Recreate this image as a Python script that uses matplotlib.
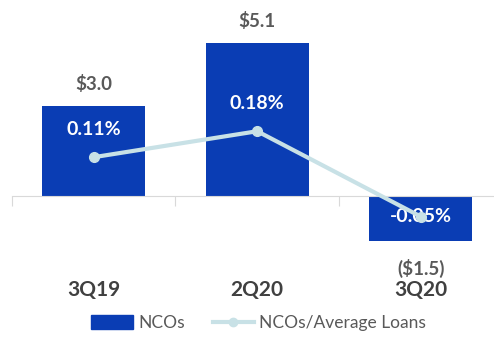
import matplotlib.pyplot as plt
from matplotlib.patches import Patch
from matplotlib.lines import Line2D

quarters = ['3Q19', '2Q20', '3Q20']
ncos = [3.0, 5.1, -1.5]              # $ millions
nco_ratio = [0.11, 0.18, -0.05]      # % of average loans

blue = '#0A3DB4'
line_col = '#C8E1E6'
grey = '#595959'
dark = '#404040'

plt.rcParams['font.family'] = ['Lato', 'DejaVu Sans']

fig = plt.figure(figsize=(4.94, 3.41), dpi=100)
ax = fig.add_axes([0, 40 / 341, 1, 301 / 341])
ax.set_xlim(-0.573, 2.448)
ax.set_ylim(-3.5, 6.53)

x = range(len(quarters))
bars = ax.bar(x, ncos, width=0.63, color=blue, zorder=2)

# value labels above / below the bars
for xi, v in zip(x, ncos):
    txt = '${:.1f}'.format(v) if v >= 0 else '(${:.1f})'.format(-v)
    off = 16 if v >= 0 else -20
    ax.annotate(txt, (xi, v), xytext=(0, off), textcoords='offset points',
                ha='center', va='center', fontsize=13.5, fontweight='bold', color=grey)

# category labels
for xi, q in zip(x, quarters):
    ax.text(xi, -3.13, q, ha='center', va='center', fontsize=15,
            fontweight='bold', color=dark)

for s in ['top', 'right', 'left']:
    ax.spines[s].set_visible(False)
ax.spines['bottom'].set_position(('data', 0))
ax.spines['bottom'].set_color('#D9D9D9')
ax.spines['bottom'].set_bounds(-0.5, 2.448)
ax.set_yticks([])
ax.set_xticks([-0.5, 0.5, 1.5])
ax.tick_params(axis='x', length=7, color='#D9D9D9', labelbottom=False)

ax2 = ax.twinx()
ax2.set_ylim(-0.2776, 0.5337)
ax2.axis('off')
ax2.plot(x, nco_ratio, color=line_col, lw=3, marker='o', ms=7,
         solid_capstyle='round', zorder=3)
for xi, r in zip(x, nco_ratio):
    off = 20 if r > 0 else 0
    ax2.annotate('{:.2f}%'.format(r), (xi, r), xytext=(0, off),
                 textcoords='offset points', ha='center', va='center',
                 fontsize=14, fontweight='bold', color='white', zorder=2)

handles = [Patch(color=blue, label='NCOs'),
           Line2D([], [], color=line_col, lw=3, marker='o', ms=6,
                  label='NCOs/Average Loans')]
fig.legend(handles=handles, loc='center', bbox_to_anchor=(0.524, 18 / 341),
           ncol=2, frameon=False, fontsize=12.5, labelcolor=grey,
           handlelength=2.4, handleheight=0.8, columnspacing=1.6, handletextpad=0.3)

fig.savefig('out.png', dpi=100)
